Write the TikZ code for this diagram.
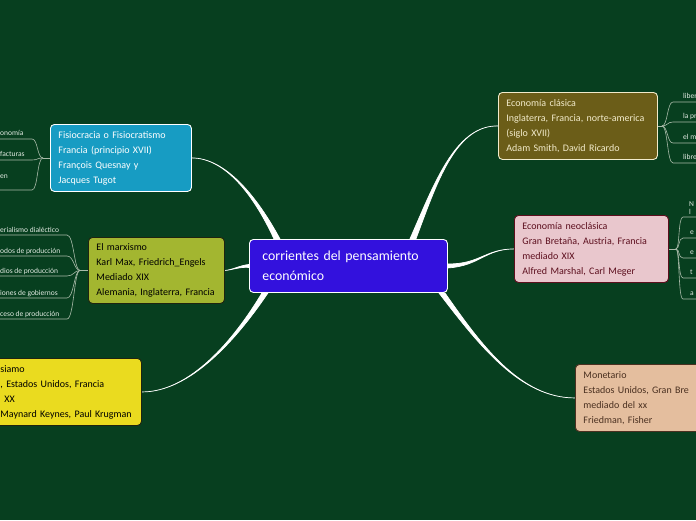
\documentclass[tikz,border=0pt]{standalone}
\usepackage{fontspec}
\setmainfont{Carlito}
\usetikzlibrary{positioning, calc, backgrounds}
\definecolor{MapGreen}{HTML}{073F1F}
\definecolor{MapCentral}{HTML}{3311DD}
\definecolor{MapFisio}{HTML}{179CC3}
\definecolor{MapMarx}{HTML}{A3B630}
\definecolor{MapMarxLine}{HTML}{1E2410}
\definecolor{MapKeynes}{HTML}{EADB1F}
\definecolor{MapClasica}{HTML}{6B5D18}
\definecolor{MapClasicaText}{HTML}{F2EBCB}
\definecolor{MapNeo}{HTML}{E9C7CD}
\definecolor{MapNeoText}{HTML}{5C0E1D}
\definecolor{MapMonet}{HTML}{E4BE9E}
\definecolor{MapMonetText}{HTML}{4A3020}
\definecolor{MapLeaf}{HTML}{A9BBA9}
\definecolor{MapLeafText}{HTML}{E3EBE3}

\tikzset{
  topic/.style={draw, rounded corners=4pt, line width=0.9pt, anchor=north west, align=left,
    inner xsep=8pt, inner ysep=0pt, font=\fontsize{10}{15}\selectfont},
  leaf/.style={anchor=base west, inner sep=0pt, font=\fontsize{7.5}{8}\selectfont, text=MapLeafText},
  leafline/.style={draw=MapLeaf, line width=0.6pt},
  branchfill/.style={fill=white, draw=white, line width=0.7pt},
}
% tapered branch: start, control, control, end, half width at start
\newcommand\branch[5]{%
  \filldraw[branchfill] ($(#1)+(#5)$) .. controls ($(#2)+0.4*(#5)$) and (#3) .. (#4)
    .. controls (#3) and ($(#2)-0.4*(#5)$) .. ($(#1)-(#5)$) -- cycle;}

\begin{document}
\begin{tikzpicture}[x=1pt, y=-1pt]
  \useasboundingbox (0,0) rectangle (696,520);
  \clip (0,0) rectangle (696,520);

  % Central topic
  \node[topic, fill=MapCentral, draw=white, text=white, text width=172pt, minimum height=53pt,
    inner xsep=13pt, font=\fontsize{13.8}{20}\selectfont] (center) at (249,239)
    {corrientes del pensamiento\\económico};

  % Main topics
  \node[topic, fill=MapFisio, draw=white, text=white, text width=125pt, minimum height=67pt] (fisio) at (50,124)
    {Fisiocracia o Fisiocratismo\\Francia (principio XVII)\\François Quesnay y\\Jacques Tugot};
  \node[topic, fill=MapMarx, draw=MapMarxLine, text=black, text width=120pt, minimum height=66pt] (marx) at (88,237)
    {El marxismo\\Karl Max, Friedrich\_Engels\\Mediado XIX\\Alemania, Inglaterra, Francia};
  \node[topic, fill=MapKeynes, draw=MapMarxLine, text=black, text width=133pt, minimum height=67pt] (keynes) at (-8,358)
    {siamo\\, Estados Unidos, Francia\\\hspace{4pt}XX\\Maynard Keynes, Paul Krugman};
  \node[topic, fill=MapClasica, draw=MapClasicaText, text=MapClasicaText, text width=143pt, minimum height=67pt] (clasica) at (498,92)
    {Economía clásica\\Inglaterra, Francia, norte-america\\(siglo XVII)\\Adam Smith, David Ricardo};
  \node[topic, fill=MapNeo, draw=MapNeoText, text=MapNeoText, text width=138pt, minimum height=67pt] (neo) at (514,215)
    {Economía neoclásica\\Gran Bretaña, Austria, Francia\\mediado XIX\\Alfred Marshal, Carl Meger};
  \node[topic, fill=MapMonet, draw=MapMonetText, text=MapMonetText, text width=139pt, minimum height=67pt] (monet) at (575,364)
    {Monetario\\Estados Unidos, Gran Bre\\mediado del xx\\Friedman, Fisher};

  % Branches
  \begin{scope}[on background layer]
    \fill[MapGreen] (0,0) rectangle (696,520);
    \coordinate (bFisio) at ($(center.north west)+(28,0)$);
    \coordinate (bKeynes) at ($(center.south west)+(16,0)$);
    \coordinate (bClasica) at ($(center.north east)+(-35,0)$);
    \coordinate (bMonet) at ($(center.south east)+(-6,0)$);
    \branch{bFisio}{255,195}{225,158}{fisio.east}{3,0}
    \branch{center.west}{240,266}{232,270}{marx.east}{0,1.5}
    \branch{bKeynes}{235,340}{190,392}{keynes.east}{3,0}
    \branch{bClasica}{435,185}{455,125}{clasica.west}{3,0}
    \branch{center.east}{480,265}{485,249}{neo.west}{0,2}
    \branch{bMonet}{480,345}{520,398}{monet.west}{3,0}
  \end{scope}

  % Fisiocracia leaves
  \coordinate (jFisio) at ($(fisio.west)+(-7,0)$);
  \draw[leafline] (fisio.west) -- (jFisio);
  \node[leaf] (fl1) at (0,135.5) {onomía};
  \node[leaf] (fl2) at (0,156.5) {facturas};
  \node[leaf] (fl3) at (0,178) {en};
  \draw[leafline] (jFisio) .. controls +(-6,0) and +(6,0) .. ($(fl1.base west)+(32,3.5)$) -- ($(fl1.base west)+(-2,3.5)$);
  \draw[leafline] (jFisio) .. controls +(-6,0) and +(6,0) .. ($(fl2.base west)+(32,3.5)$) -- ($(fl2.base west)+(-2,3.5)$);
  \draw[leafline] (jFisio) .. controls +(-6,0) and +(6,0) .. ($(fl3.base west)+(32,12)$) -- ($(fl3.base west)+(-2,12)$);

  % Marxismo leaves
  \coordinate (jMarx) at ($(marx.west)+(-8,0)$);
  \draw[leafline] (marx.west) -- (jMarx);
  \node[leaf] (ml1) at (0,232) {erialismo dialéctico};
  \node[leaf] (ml2) at (0,253) {odos de producción};
  \node[leaf] (ml3) at (0,273) {dios de producción};
  \node[leaf] (ml4) at (0,295) {iones de gobiernos};
  \node[leaf] (ml5) at (0,316) {ceso de producción};
  \foreach \m in {ml1,ml2,ml3,ml4,ml5}
    \draw[leafline] (jMarx) .. controls +(-6,0) and +(7,0) .. ($(\m.base west)+(67,3)$) -- ($(\m.base west)+(-2,3)$);

  % Economia clasica leaves
  \coordinate (jClasica) at ($(clasica.east)+(4,0)$);
  \draw[leafline] (clasica.east) -- (jClasica);
  \node[leaf] (cl1) at (683,98.5) {liber};
  \node[leaf] (cl2) at (683,118.5) {la pr};
  \node[leaf] (cl3) at (683,139.5) {el m};
  \node[leaf] (cl4) at (683,159.5) {libre};
  \foreach \c in {cl1,cl2,cl3,cl4}
    \draw[leafline] (jClasica) .. controls +(6,0) and +(-6,0) .. ($(\c.base west)+(-10,3.5)$) -- ($(\c.base west)+(20,3.5)$);

  % Economia neoclasica leaves
  \coordinate (jNeo) at ($(neo.east)+(7,0)$);
  \draw[leafline] (neo.east) -- (jNeo);
  \node[leaf, anchor=south west, align=left] (nl1) at (689,215) {N\\l};
  \node[leaf] (nl2) at (690,234.5) {e};
  \node[leaf] (nl3) at (690,254.5) {e};
  \node[leaf] (nl4) at (690,274.5) {t};
  \node[leaf] (nl5) at (690,295.5) {a};
  \draw[leafline] (jNeo) .. controls +(4,0) and +(-5,0) .. ($(nl1.south west)+(-6,2)$) -- ($(nl1.south west)+(10,2)$);
  \foreach \n in {nl2,nl3,nl4,nl5}
    \draw[leafline] (jNeo) .. controls +(4,0) and +(-5,0) .. ($(\n.base west)+(-7,3.5)$) -- ($(\n.base west)+(10,3.5)$);
\end{tikzpicture}
\end{document}
